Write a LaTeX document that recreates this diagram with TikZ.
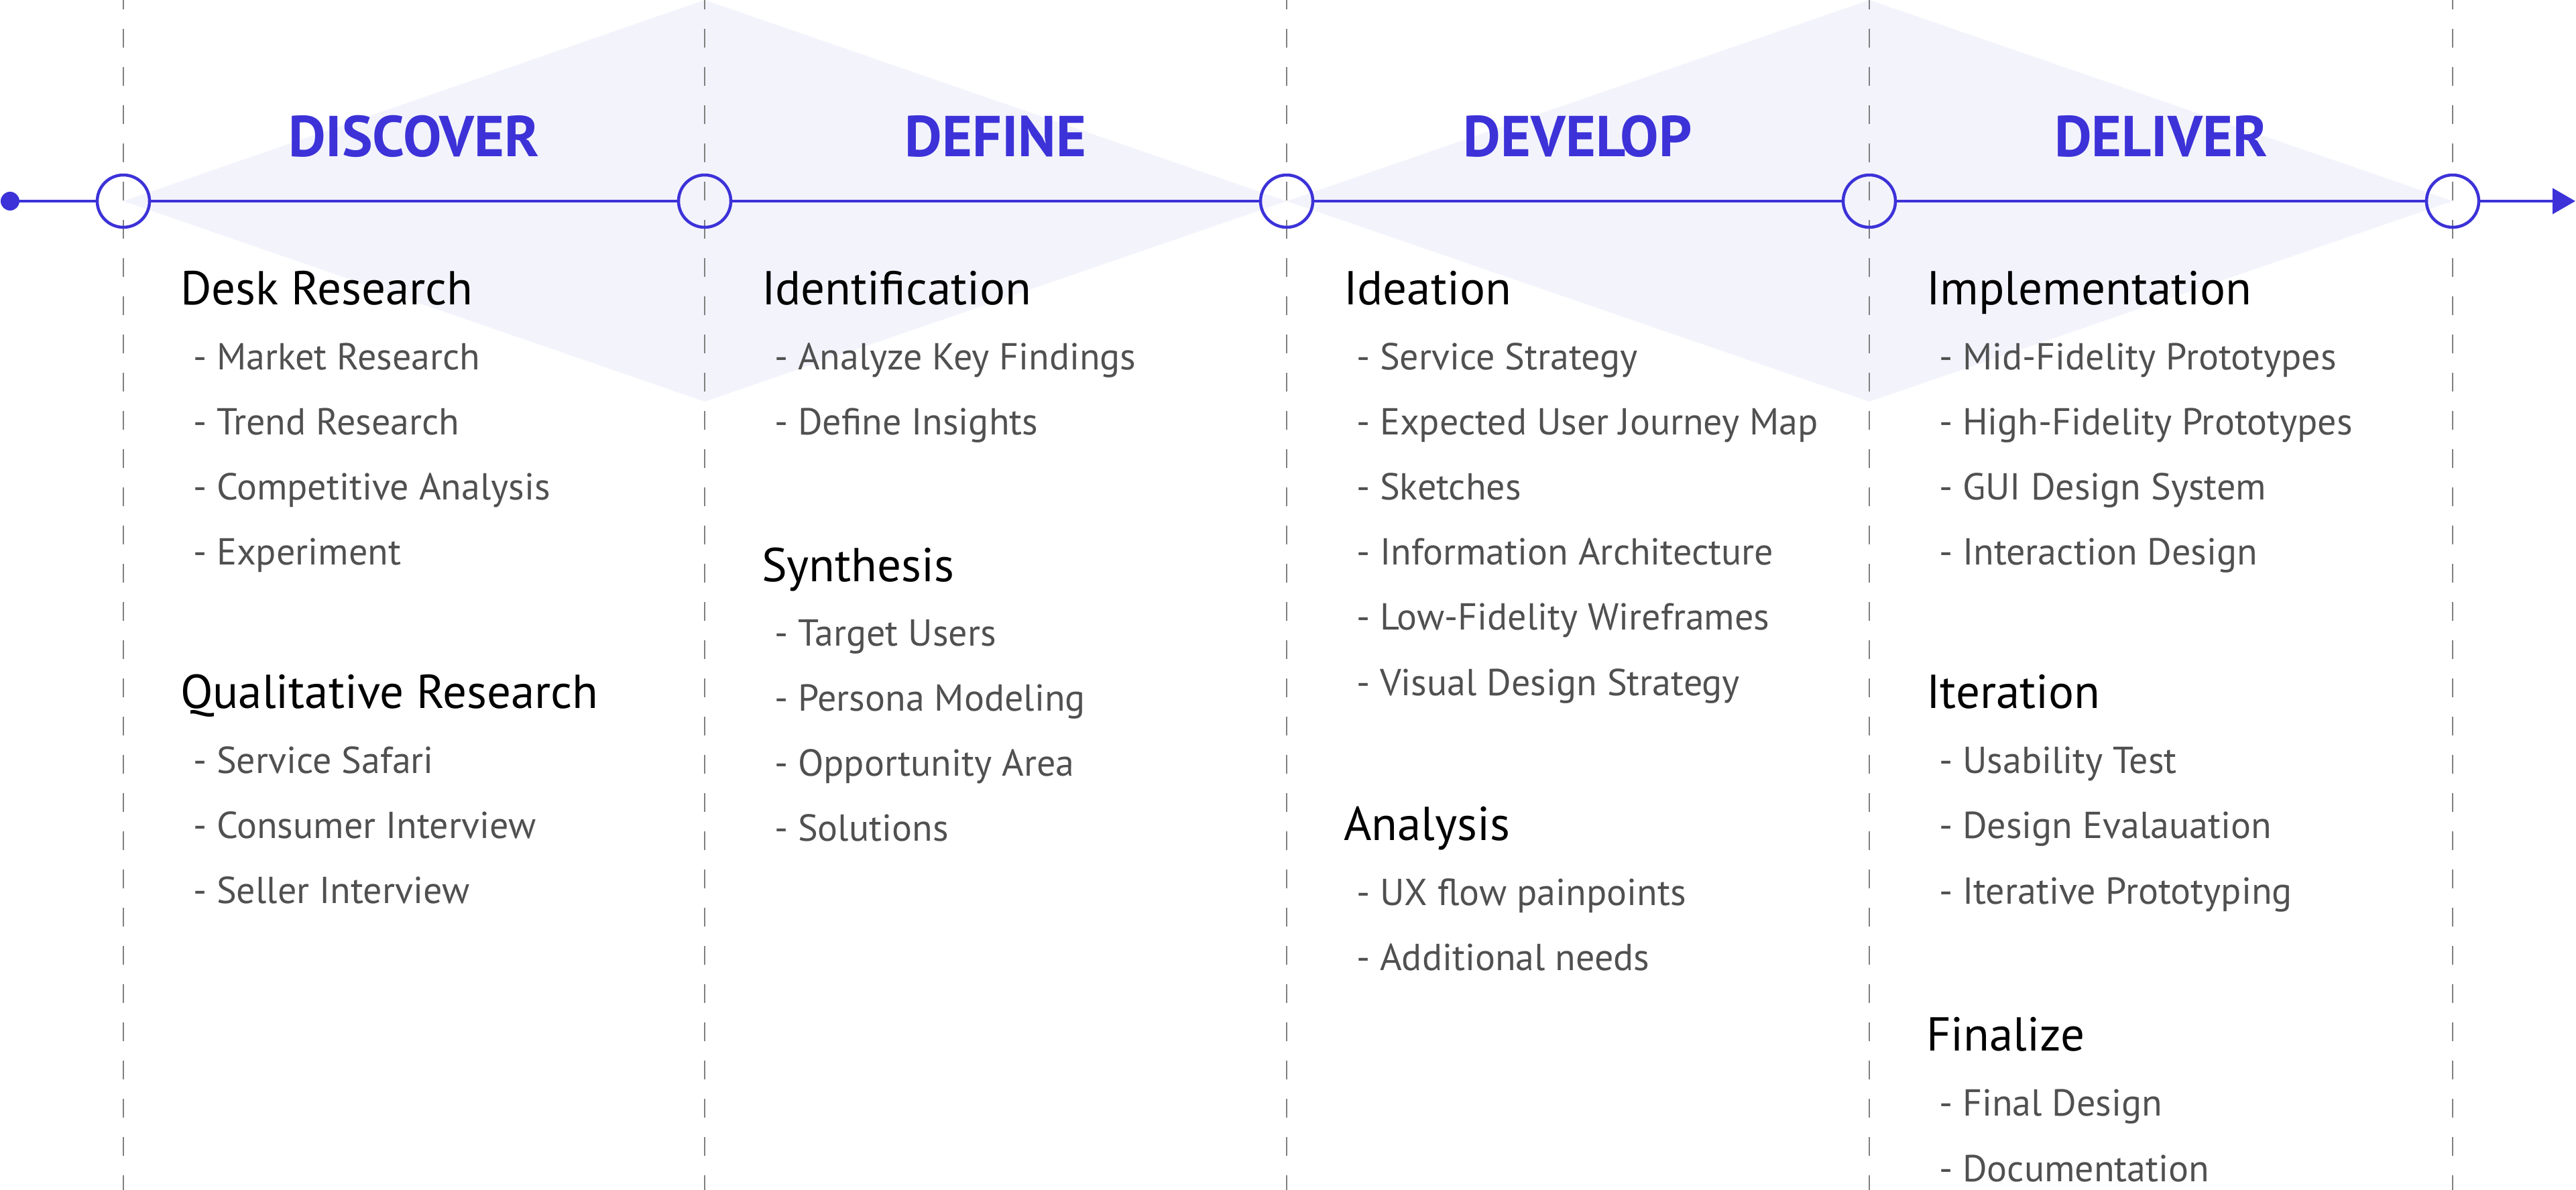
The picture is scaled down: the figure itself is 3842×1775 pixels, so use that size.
\documentclass[tikz,border=0pt]{standalone}
\usepackage{fontspec}
\setmainfont{PT Sans}
\usetikzlibrary{arrows.meta,positioning}

\definecolor{phaseBlue}{HTML}{3C32D8}
\definecolor{diamondFill}{HTML}{F3F3FC}
\definecolor{itemGray}{HTML}{505050}
\definecolor{guideGray}{HTML}{808080}

\begin{document}
\begin{tikzpicture}[x=1pt, y=-1pt,
				      every node/.style={inner sep=0pt, outer sep=0pt},
				      phaseTitle/.style={
						      anchor=base, text=phaseBlue,
						      font=\fontsize{86}{92}\selectfont\bfseries
					      },
				      stepHeading/.style={
						      anchor=base west, text=black,
						      font=\fontsize{71}{78}\selectfont
					      },
				      stepItem/.style={
						      anchor=base west, text=itemGray,
						      font=\fontsize{56}{62}\selectfont
					      },
				      milestone/.style={
						      draw=phaseBlue, shape=circle, line width=4.5pt,
						      minimum size=78pt
					      },
				      startDot/.style={
						      fill=phaseBlue, shape=circle, minimum size=28pt
					      },
				      timeline/.style={draw=phaseBlue, line width=4.5pt},
				      guide/.style={
						      draw=guideGray, line width=2pt,
						      dash pattern=on 28pt off 29pt, dash phase=14pt
					      }
			      ]
			      \useasboundingbox (0,0) rectangle (3842,1775);

			      % Shaded diamonds
			      \fill[diamondFill] (184,300) -- (1051,0) -- (1919,300) -- (1051,599) -- cycle;
			      \fill[diamondFill] (1919,300) -- (2788,0) -- (3658,300) -- (2788,599) -- cycle;

			      % Guide lines
			      \foreach \gx in {184,1051,1919,2788,3658}
				      \draw[guide] (\gx,0) -- (\gx,1775);

			      % Timeline
			      \node[startDot] (S0) at (15,300) {};
			      \node[milestone] (M1) at (184,300) {};
			      \node[milestone] (M2) at (1051,300) {};
			      \node[milestone] (M3) at (1919,300) {};
			      \node[milestone] (M4) at (2788,300) {};
			      \node[milestone] (M5) at (3658,300) {};
			      \coordinate (E0) at (3841,300);
			      \draw[timeline] (S0) -- (M1);
			      \draw[timeline] (M1) -- (M2);
			      \draw[timeline] (M2) -- (M3);
			      \draw[timeline] (M3) -- (M4);
			      \draw[timeline] (M4) -- (M5);
			      \draw[timeline, -{Triangle[length=34pt, width=38pt]}] (M5) -- (E0);

			      % Phase titles
			      \node[phaseTitle] (T1) at (617,233) {DISCOVER};
			      \node[phaseTitle] (T2) at (1485,233) {DEFINE};
			      \node[phaseTitle] (T3) at (2353,233) {DEVELOP};
			      \node[phaseTitle] (T4) at (3223,233) {DELIVER};

			      % Discover column
			      \begin{scope}[shift={(184,0)}]
				      \node[stepHeading] (A1) at (85,454) {Desk Research};
				      \node[stepItem] (A11) at (104,551) {- Market Research};
				      \node[stepItem] (A12) at (104,648) {- Trend Research};
				      \node[stepItem] (A13) at (104,745) {- Competitive Analysis};
				      \node[stepItem] (A14) at (104,842) {- Experiment};
				      \node[stepHeading] (A2) at (85,1056) {Qualitative Research};
				      \node[stepItem] (A21) at (104,1153) {- Service Safari};
				      \node[stepItem] (A22) at (104,1250) {- Consumer Interview};
				      \node[stepItem] (A23) at (104,1347) {- Seller Interview};
			      \end{scope}

			      % Define column
			      \begin{scope}[shift={(1051,0)}]
				      \node[stepHeading] (B1) at (85,454) {Identification};
				      \node[stepItem] (B11) at (104,551) {- Analyze Key Findings};
				      \node[stepItem] (B12) at (104,648) {- Define Insights};
				      \node[stepHeading] (B2) at (85,867) {Synthesis};
				      \node[stepItem] (B21) at (104,963) {- Target Users};
				      \node[stepItem] (B22) at (104,1060) {- Persona Modeling};
				      \node[stepItem] (B23) at (104,1157) {- Opportunity Area};
				      \node[stepItem] (B24) at (104,1254) {- Solutions};
			      \end{scope}

			      % Develop column
			      \begin{scope}[shift={(1919,0)}]
				      \node[stepHeading] (C1) at (85,454) {Ideation};
				      \node[stepItem] (C11) at (104,551) {- Service Strategy};
				      \node[stepItem] (C12) at (104,648) {- Expected User Journey Map};
				      \node[stepItem] (C13) at (104,745) {- Sketches};
				      \node[stepItem] (C14) at (104,842) {- Information Architecture};
				      \node[stepItem] (C15) at (104,939) {- Low-Fidelity Wireframes};
				      \node[stepItem] (C16) at (104,1037) {- Visual Design Strategy};
				      \node[stepHeading] (C2) at (85,1253) {Analysis};
				      \node[stepItem] (C21) at (104,1350) {- UX flow painpoints};
				      \node[stepItem] (C22) at (104,1447) {- Additional needs};
			      \end{scope}

			      % Deliver column
			      \begin{scope}[shift={(2788,0)}]
				      \node[stepHeading] (D1) at (85,454) {Implementation};
				      \node[stepItem] (D11) at (104,551) {- Mid-Fidelity Prototypes};
				      \node[stepItem] (D12) at (104,648) {- High-Fidelity Prototypes};
				      \node[stepItem] (D13) at (104,745) {- GUI Design System};
				      \node[stepItem] (D14) at (104,842) {- Interaction Design};
				      \node[stepHeading] (D2) at (85,1056) {Iteration};
				      \node[stepItem] (D21) at (104,1153) {- Usability Test};
				      \node[stepItem] (D22) at (104,1250) {- Design Evalauation};
				      \node[stepItem] (D23) at (104,1348) {- Iterative Prototyping};
				      \node[stepHeading] (D3) at (85,1567) {Finalize};
				      \node[stepItem] (D31) at (104,1664) {- Final Design};
				      \node[stepItem] (D32) at (104,1762) {- Documentation};
			      \end{scope}
		      \end{tikzpicture}
\end{document}
